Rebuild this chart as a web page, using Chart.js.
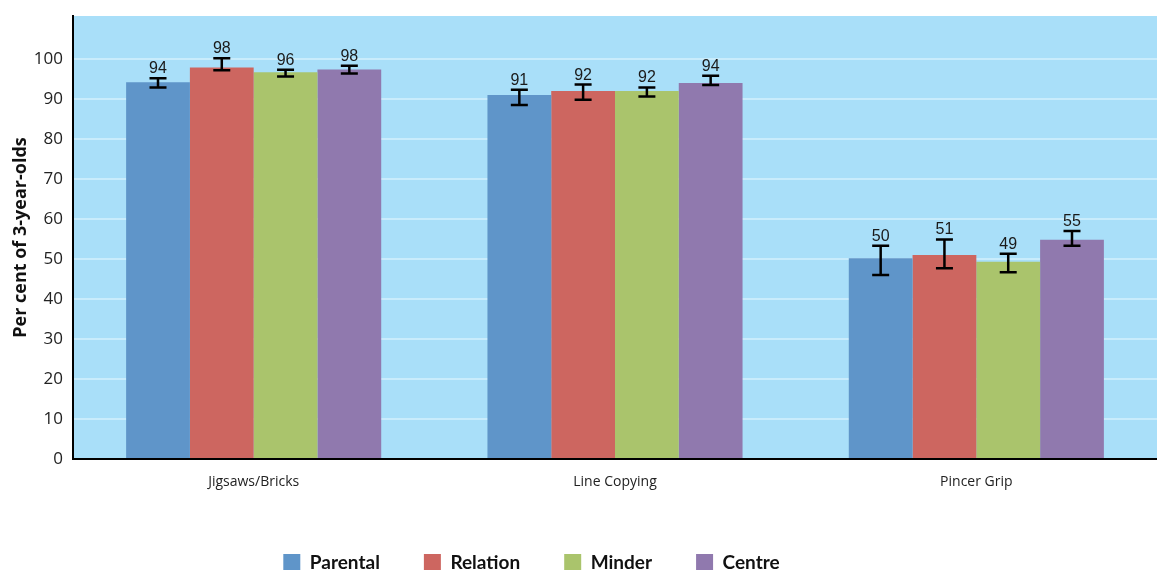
<!DOCTYPE html>
<html>
<head>
<meta charset="utf-8">
<script src="https://cdn.jsdelivr.net/npm/chart.js@4.4.1/dist/chart.umd.min.js"></script>
<style>
html,body{margin:0;padding:0;background:#fff;}
#wrap{width:1157px;height:570px;position:relative;}
</style>
</head>
<body>
<div id="wrap"><canvas id="c" width="1157" height="570"></canvas></div>
<script>
const categories = ['Jigsaws/Bricks', 'Line Copying', 'Pincer Grip'];
const seriesNames = ['Parental', 'Relation', 'Minder', 'Centre'];

const parental = [94.2, 91.0, 50.2];
const relation = [97.9, 92.0, 51.0];
const minder   = [96.7, 92.0, 49.3];
const centre   = [97.4, 94.0, 54.8];

const parentalLabels = [94, 91, 50];
const relationLabels = [98, 92, 51];
const minderLabels   = [96, 92, 49];
const centreLabels   = [98, 94, 55];

const parentalLow  = [92.9, 88.5, 46.0];
const parentalHigh = [95.2, 92.3, 53.3];
const relationLow  = [97.2, 89.8, 47.7];
const relationHigh = [100.2, 93.6, 54.9];
const minderLow    = [95.6, 90.6, 46.7];
const minderHigh   = [97.3, 92.9, 51.3];
const centreLow    = [96.4, 93.5, 53.3];
const centreHigh   = [98.3, 95.8, 57.0];

const yTicks = [0, 10, 20, 30, 40, 50, 60, 70, 80, 90, 100];

const colors = ['#5f95c9', '#cd6660', '#aac46c', '#9079ae'];
const values = [parental, relation, minder, centre];
const labelsArr = [parentalLabels, relationLabels, minderLabels, centreLabels];
const lows = [parentalLow, relationLow, minderLow, centreLow];
const highs = [parentalHigh, relationHigh, minderHigh, centreHigh];

const errorBarPlugin = {
  id: 'errorBars',
  afterDatasetsDraw(chart) {
    const ctx = chart.ctx;
    const y = chart.scales.y;
    ctx.save();
    chart.data.datasets.forEach((ds, i) => {
      const meta = chart.getDatasetMeta(i);
      meta.data.forEach((bar, j) => {
        const x = bar.x;
        const yl = y.getPixelForValue(lows[i][j]);
        const yh = y.getPixelForValue(highs[i][j]);
        ctx.strokeStyle = '#000';
        ctx.lineWidth = 2.5;
        ctx.lineCap = 'butt';
        ctx.beginPath();
        ctx.moveTo(x, yl); ctx.lineTo(x, yh);
        ctx.moveTo(x - 8.5, yl); ctx.lineTo(x + 8.5, yl);
        ctx.moveTo(x - 8.5, yh); ctx.lineTo(x + 8.5, yh);
        ctx.stroke();
        ctx.fillStyle = '#1a1a1a';
        ctx.font = '16px "Liberation Sans Narrow", "Arial Narrow", "Liberation Sans", sans-serif';
        ctx.textAlign = 'center';
        ctx.textBaseline = 'alphabetic';
        ctx.fillText(String(labelsArr[i][j]), x, yh - 5);
      });
    });
    ctx.restore();
  }
};

const bgPlugin = {
  id: 'plotBg',
  afterLayout(chart) {
    // shift the legend's centring box so it sits left of centre, as in the reference
    if (chart.legend) { chart.legend.right -= 94; }
  },
  beforeDraw(chart) {
    const a = chart.chartArea;
    const ctx = chart.ctx;
    ctx.save();
    ctx.fillStyle = '#a9dff9';
    ctx.fillRect(a.left, a.top, a.right - a.left, a.bottom - a.top);
    ctx.restore();
  }
};

new Chart(document.getElementById('c'), {
  type: 'bar',
  data: {
    labels: categories,
    datasets: seriesNames.map((n, i) => ({
      label: n,
      data: values[i],
      backgroundColor: colors[i],
      borderWidth: 0,
      categoryPercentage: 0.706,
      barPercentage: 1.0
    }))
  },
  options: {
    responsive: false,
    animation: false,
    devicePixelRatio: 1,
    layout: { padding: { top: 16, right: 0, left: 0, bottom: -12 } },
    plugins: {
      tooltip: { enabled: false },
      legend: {
        position: 'bottom',
        labels: {
          boxWidth: 17,
          boxHeight: 17,
          padding: 44,
          color: '#111',
          font: { family: 'Lato, "Open Sans", sans-serif', size: 19, weight: 'bold' }
        }
      }
    },
    scales: {
      x: {
        offset: true,
        grid: { display: false, drawTicks: false },
        border: { display: true, color: '#000', width: 2 },
        ticks: { color: '#222', padding: 15, font: { family: '"Open Sans", sans-serif', size: 14 } },
        afterFit(s) { s.height = 50; }
      },
      y: {
        min: 0,
        max: 110.75,
        afterBuildTicks(s) { s.ticks = yTicks.map(v => ({ value: v })); },
        grid: { color: '#c9ecfc', lineWidth: 2, drawTicks: false },
        border: { display: true, color: '#000', width: 2 },
        ticks: { color: '#222', padding: 10, font: { family: '"Open Sans", sans-serif', size: 17 } },
        title: {
          display: true,
          text: 'Per cent of 3-year-olds',
          color: '#111',
          padding: { top: 10, bottom: 0 },
          font: { family: '"Open Sans", sans-serif', size: 18, weight: 'bold' }
        },
        afterFit(s) { s.width = 73; s.paddingTop = 0; s.paddingBottom = 0; }
      }
    }
  },
  plugins: [bgPlugin, errorBarPlugin]
});
</script>
</body>
</html>
